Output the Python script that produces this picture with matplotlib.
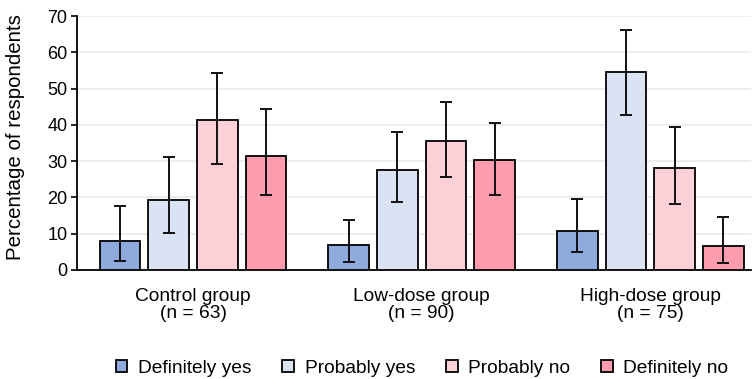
import matplotlib
matplotlib.use("Agg")
import matplotlib.pyplot as plt
import numpy as np

plt.rcParams['font.family'] = ['Liberation Sans', 'DejaVu Sans']

groups = ['Control group\n(n = 63)', 'Low-dose group\n(n = 90)', 'High-dose group\n(n = 75)']
answers = ['Definitely yes', 'Probably yes', 'Probably no', 'Definitely no']
colors = ['#8FAADC', '#DAE3F3', '#FDD0D8', '#FF9CAD']

# percentages per answer, one value per group
values = {
    'Definitely yes': [7.9, 6.9, 10.8],
    'Probably yes':   [19.2, 27.7, 54.7],
    'Probably no':    [41.4, 35.5, 28.1],
    'Definitely no':  [31.5, 30.2, 6.7],
}
# confidence interval bounds
ci_low = {
    'Definitely yes': [2.4, 2.3, 4.9],
    'Probably yes':   [10.3, 18.7, 42.8],
    'Probably no':    [29.1, 25.5, 18.2],
    'Definitely no':  [20.7, 20.6, 1.9],
}
ci_high = {
    'Definitely yes': [17.6, 13.7, 19.6],
    'Probably yes':   [31.1, 38.0, 66.1],
    'Probably no':    [54.2, 46.3, 39.5],
    'Definitely no':  [44.5, 40.5, 14.7],
}

fig = plt.figure(figsize=(7.55, 3.79), dpi=100)
ax = fig.add_axes([0.102, 0.2876, 0.893, 0.670])

x = np.arange(len(groups))
width = 0.178
step = 0.213

for i, a in enumerate(answers):
    v = np.array(values[a])
    lo = v - np.array(ci_low[a])
    hi = np.array(ci_high[a]) - v
    pos = x + (i - 1.5) * step
    ax.bar(pos, v, width, color=colors[i], edgecolor='black', linewidth=1.3,
           label=a, zorder=3)
    ax.errorbar(pos, v, yerr=[lo, hi], fmt='none', ecolor='#111111',
                elinewidth=1.4, capsize=4.5, capthick=1.4, zorder=4)

ax.set_ylim(0, 70)
ax.set_xlim(-0.508, 2.442)
ax.set_yticks(range(0, 71, 10))
ax.tick_params(axis='y', labelsize=13, length=4, width=1.2, pad=3)
ax.set_xticks(x)
ax.set_xticklabels(groups, fontsize=13.8, linespacing=1.0)
ax.tick_params(axis='x', length=0, pad=13)
ax.set_ylabel('Percentage of respondents', fontsize=14.8)
ax.yaxis.set_label_coords(-0.077, 0.525)
ax.grid(axis='y', color='#EDEDED', linewidth=1.4, zorder=0)
for s in ['top', 'right']:
    ax.spines[s].set_visible(False)
ax.spines['left'].set_linewidth(1.3)
ax.spines['bottom'].set_linewidth(1.3)

handles, labels = ax.get_legend_handles_labels()
fig.legend(handles, labels, loc='center', bbox_to_anchor=(422 / 755, 0.028),
           ncol=4, frameon=False, fontsize=13.8, handlelength=0.62,
           handleheight=0.62, columnspacing=1.6, handletextpad=0.55)

plt.savefig('out.png', dpi=100)
